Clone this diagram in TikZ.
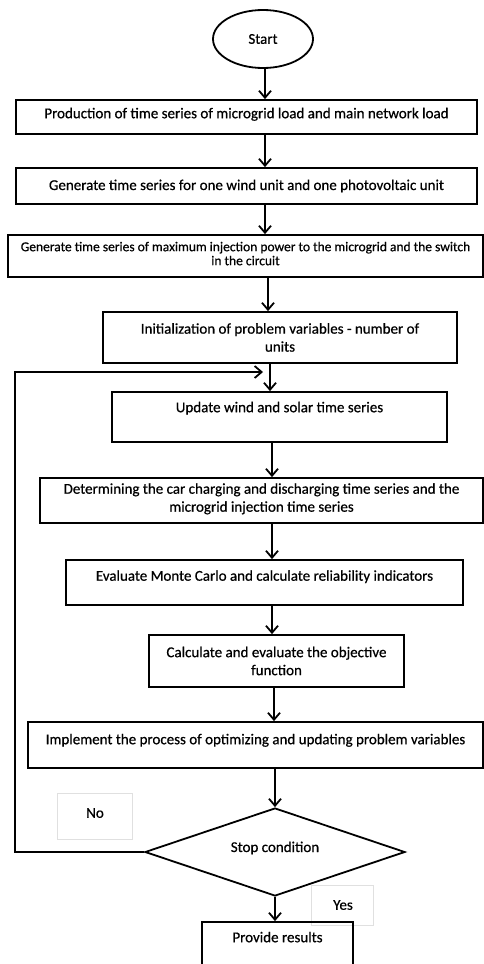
\documentclass[tikz,border=0pt]{standalone}
\usepackage{fontspec}
\setmainfont{Carlito}[FakeBold=0.6]
\usetikzlibrary{arrows.meta,shapes.geometric}
\begin{document}
\begin{tikzpicture}[x=1pt,y=-1pt,
  every node/.style={font=\fontsize{15}{18}\selectfont},
  box/.style={draw,line width=1.8pt,rectangle,inner sep=2pt,align=center},
  arr/.style={line width=1.8pt,-{Straight Barb[length=7pt,width=12pt,line width=1.8pt]}},
  lab/.style={draw=black!12,line width=0.8pt,rectangle,inner sep=0pt}]
\useasboundingbox (0,0) rectangle (484,964);
\clip (0,0) rectangle (484,964);
\node[draw,line width=1.8pt,ellipse,minimum width=100pt,minimum height=58pt,inner sep=0pt] (start) at (263,39) {Start};
\node[box,minimum width=461pt,minimum height=34pt,text depth=8pt] (b1) at (246.5,117) {Production of time series of microgrid load and main network load};
\node[box,minimum width=461pt,minimum height=36pt] (b2) at (246.5,186) {Generate time series for one wind unit and one photovoltaic unit};
\node[box,minimum width=475pt,minimum height=42pt,font=\fontsize{13.5}{14}\selectfont,text depth=5pt] (b3) at (245.5,256) {Generate time series of maximum injection power to the microgrid and the switch\\in the circuit};
\node[box,minimum width=354pt,minimum height=51pt] (b4) at (280,337.5) {Initialization of problem variables - number of\\units};
\node[box,minimum width=335pt,minimum height=50pt,text depth=20pt] (b5) at (279.5,417) {Update wind and solar time series};
\node[box,minimum width=443pt,minimum height=45pt,text depth=6pt] (b6) at (261.5,500.5) {Determining the car charging and discharging time series and the\\microgrid injection time series};
\node[box,minimum width=397pt,minimum height=45pt,text depth=14pt] (b7) at (264.5,582.5) {Evaluate Monte Carlo and calculate reliability indicators};
\node[box,minimum width=255pt,minimum height=52pt] (b8) at (276.5,661) {Calculate and evaluate the objective\\function};
\node[box,minimum width=455pt,minimum height=46pt,text depth=12pt] (b9) at (255.5,745) {Implement the process of optimizing and updating problem variables};
\node[draw,line width=1.8pt,diamond,aspect=2.95,minimum width=260pt,minimum height=88pt,inner sep=0pt] (d) at (275,852) {};
\node (dt) at (275,848) {Stop condition};
\node[lab,minimum width=75pt,minimum height=46pt] (no) at (94.5,816) {};
\node (not) at (95,813) {No};
\node[lab,minimum width=62pt,minimum height=40pt] (yes) at (342,905) {};
\node (yest) at (343,905) {Yes};
\node[box,minimum width=151pt,minimum height=50pt,text depth=20pt] (b10) at (277.5,947) {Provide results};
\coordinate (c1) at (265,0);
\coordinate (c2) at (268,0);
\coordinate (c3) at (270,0);
\coordinate (c4) at (272,0);
\coordinate (c5) at (274,0);
\coordinate (c6) at (275,0);
\coordinate (fb1) at (15,852);
\coordinate (fb2) at (15,372);
\coordinate (fb3) at (263,372);
\draw[arr] (start.south -| c1) -- (b1.north -| c1);
\draw[arr] (b1.south -| c1) -- (b2.north -| c1);
\draw[arr] (b2.south -| c1) -- (b3.north -| c1);
\draw[arr] (b3.south -| c2) -- (b4.north -| c2);
\draw[arr] (b4.south -| c3) -- (b5.north -| c3);
\draw[arr] (b5.south -| c4) -- (b6.north -| c4);
\draw[arr] (b6.south -| c4) -- (b7.north -| c4);
\draw[arr] (b7.south -| c4) -- (b8.north -| c4);
\draw[arr] (b8.south -| c5) -- (b9.north -| c5);
\draw[arr] (b9.south -| c6) -- (d.north);
\draw[arr] (d.south) -- (b10.north -| c6);
\draw[arr] (d.west) -- (fb1) -- (fb2) -- (fb3);
\end{tikzpicture}
\end{document}
